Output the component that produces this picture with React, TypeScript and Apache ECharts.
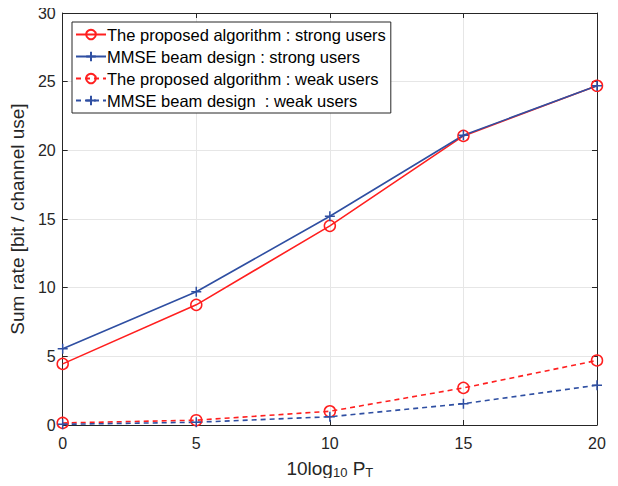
import React, { useEffect, useRef } from "react";
import * as echarts from "echarts";

const xValues = [0, 5, 10, 15, 20];
const proposedStrong = [4.45, 8.75, 14.5, 21.05, 24.7];
const mmseStrong = [5.55, 9.7, 15.2, 21.1, 24.7];
const proposedWeak = [0.15, 0.35, 1.0, 2.7, 4.7];
const mmseWeak = [0.05, 0.2, 0.6, 1.55, 2.9];
const seriesNames = [
  "The proposed algorithm : strong users",
  "MMSE beam design : strong users",
  "The proposed algorithm : weak users",
  "MMSE beam design  : weak users",
];

const RED = "#FF1F1F";
const BLUE = "#2F4FA2";
const PLUS = "path://M0,-6L0,6M-6,0L6,0";
const FONT = "Liberation Sans, Arial, Helvetica, sans-serif";
const TXT = "#262626";

export default function App() {
  const ref = useRef<HTMLDivElement>(null);
  useEffect(() => {
    if (!ref.current) return;
    const chart = echarts.init(ref.current, null, { renderer: "svg" });
    const pts = (ys: number[]) => xValues.map((x, i) => [x, ys[i]]);
    const mk = (name: string, ys: number[], color: string, dashed: boolean, circle: boolean) => ({
      name,
      type: "line",
      data: pts(ys),
      symbol: circle ? "circle" : PLUS,
      symbolSize: circle ? 11 : 10,
      showAllSymbol: true,
      lineStyle: { color, width: 1.6, type: dashed ? [5, 4] : "solid" },
      itemStyle: { color: circle ? "rgba(0,0,0,0)" : color, borderColor: color, borderWidth: 1.5 },
      z: 3,
    });
    const axisCommon = {
      min: 0,
      axisLine: { show: true, onZero: false, lineStyle: { color: "#262626", width: 1 } },
      axisTick: { show: true, inside: true, length: 5, lineStyle: { color: "#262626" } },
    };
    chart.setOption({
      animation: false,
      backgroundColor: "#fff",
      textStyle: { fontFamily: FONT },
      grid: { left: 62, right: 21, top: 13, bottom: 61, containLabel: false },
      legend: {
        orient: "vertical",
        left: 72,
        top: 22,
        padding: [4, 5, 4, 3],
        itemGap: 5,
        itemWidth: 30,
        itemHeight: 12,
        backgroundColor: "#fff",
        borderColor: "#262626",
        borderWidth: 1,
        borderRadius: 0,
        textStyle: { fontFamily: FONT, fontSize: 16.5, lineHeight: 17, color: "#000", padding: [0, 0, 0, -4] },
        data: seriesNames,
      },
      xAxis: [
        {
          ...axisCommon,
          type: "value",
          max: 20,
          interval: 5,
          position: "bottom",
          axisLabel: { fontSize: 16, color: TXT, margin: 10, fontFamily: FONT },
          splitLine: { show: true, lineStyle: { color: "#E6E6E6" } },
          name: "{a|10log}{s|10}{a| P}{s|T}",
          nameLocation: "middle",
          nameGap: 32,
          nameTextStyle: {
            rich: {
              a: { fontSize: 19, color: TXT, fontFamily: FONT },
              s: { fontSize: 13, color: TXT, fontFamily: FONT, verticalAlign: "bottom", padding: [9, 0, 0, 0] },
            },
          },
        },
        {
          ...axisCommon,
          type: "value",
          max: 20,
          interval: 5,
          position: "top",
          axisLabel: { show: false },
          splitLine: { show: false },
        },
      ],
      yAxis: [
        {
          ...axisCommon,
          type: "value",
          max: 30,
          interval: 5,
          position: "left",
          axisLabel: { fontSize: 16, color: TXT, margin: 7, fontFamily: FONT },
          splitLine: { show: true, lineStyle: { color: "#E6E6E6" } },
          name: "Sum rate [bit / channel use]",
          nameLocation: "middle",
          nameGap: 31,
          nameRotate: 90,
          nameTextStyle: { fontSize: 19, color: TXT, fontFamily: FONT },
        },
        {
          ...axisCommon,
          type: "value",
          max: 30,
          interval: 5,
          position: "right",
          axisLabel: { show: false },
          splitLine: { show: false },
        },
      ],
      series: [
        mk(seriesNames[0], proposedStrong, RED, false, true),
        mk(seriesNames[1], mmseStrong, BLUE, false, false),
        mk(seriesNames[2], proposedWeak, RED, true, true),
        mk(seriesNames[3], mmseWeak, BLUE, true, false),
      ],
    });
    return () => chart.dispose();
  }, []);
  return <div ref={ref} style={{ width: 618, height: 486, margin: -8 }} />;
}
